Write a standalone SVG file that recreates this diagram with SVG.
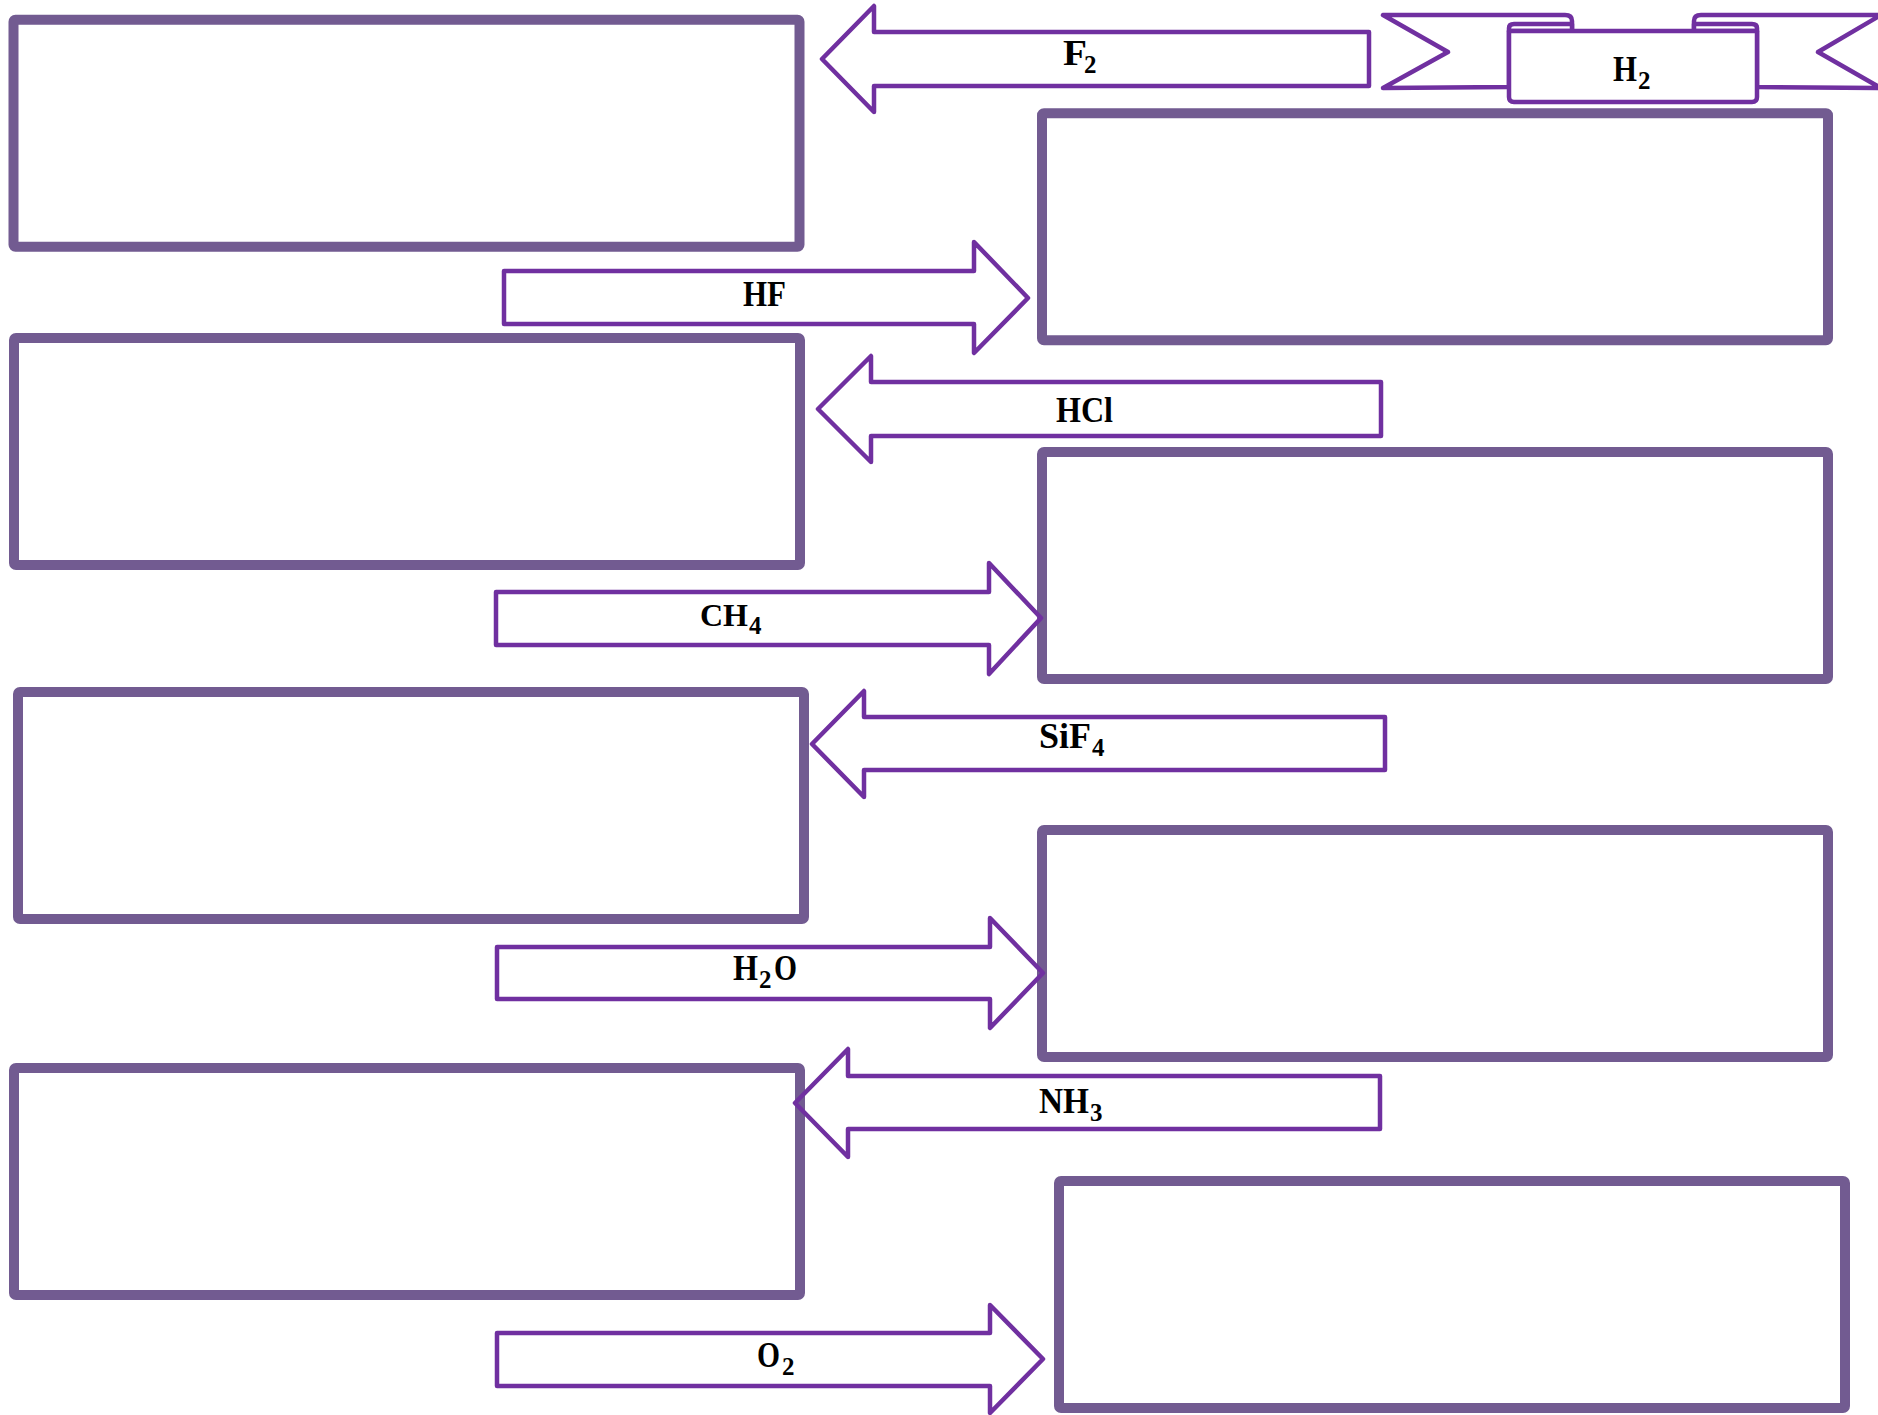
<svg xmlns="http://www.w3.org/2000/svg" width="1878" height="1415" viewBox="0 0 1878 1415">
<style>
.box{fill:#fff;stroke:#725B91;stroke-width:10;stroke-linejoin:round}
.arrow{fill:none;stroke:#7030A0;stroke-width:4.5;stroke-linejoin:round}
.rib{fill:#fff;stroke:#7030A0;stroke-width:4.5;stroke-linejoin:round;stroke-linecap:round}
.lbl{font-family:"Liberation Serif","DejaVu Serif",serif;font-weight:bold;font-size:36px;fill:#000}
.sub{font-size:25px}
</style>
<rect width="1878" height="1415" fill="#fff"/>
<g id="box-l1"><rect class="box" x="13.5" y="19.7" width="786" height="227" rx="2"/></g>
<g id="box-r1"><rect class="box" x="1042" y="113.3" width="786" height="227" rx="2"/></g>
<g id="box-l2"><rect class="box" x="14" y="338" width="786" height="227" rx="2"/></g>
<g id="box-r2"><rect class="box" x="1042" y="452" width="786" height="227" rx="2"/></g>
<g id="box-l3"><rect class="box" x="18" y="692" width="786" height="227" rx="2"/></g>
<g id="box-r3"><rect class="box" x="1042" y="830" width="786" height="227" rx="2"/></g>
<g id="box-l4"><rect class="box" x="14" y="1068" width="786" height="227" rx="2"/></g>
<g id="box-r4"><rect class="box" x="1059" y="1181" width="786" height="227" rx="2"/></g>
<g id="banner-h2">
<path class="rib" d="M1383,15 L1565,15 Q1572,15 1572,21 L1572,31 L1509,31 L1509,87 L1383,88 L1448,52 Z"/>
<path class="rib" d="M1881,15 L1701,15 Q1694,15 1694,21 L1694,31 L1757,31 L1757,87 L1881,88 L1818,52 Z"/>
<path class="rib" d="M1509,31 L1509,28 Q1509,24 1514,24 L1572,24 L1572,31 Z"/>
<path class="rib" d="M1757,31 L1757,28 Q1757,24 1752,24 L1694,24 L1694,31 Z"/>
<path class="rib" d="M1509,31 L1757,31 L1757,97 Q1757,102 1752,102 L1514,102 Q1509,102 1509,97 Z"/>
<text class="lbl" y="81"><tspan x="1613" textLength="24" lengthAdjust="spacingAndGlyphs">H</tspan><tspan class="sub" x="1638" y="89">2</tspan></text>
</g>
<g id="connectors">
<g id="arrow-f2"><path class="arrow" d="M822,59 L874,6 L874,32 L1369,32 L1369,86 L874,86 L874,112 Z"/>
<text class="lbl" y="65"><tspan x="1063" textLength="24" lengthAdjust="spacingAndGlyphs">F</tspan><tspan class="sub" x="1084" y="73">2</tspan></text></g>
<g id="arrow-hf"><path class="arrow" d="M504,271 L974,271 L974,242 L1028,298 L974,353 L974,324 L504,324 Z"/>
<text class="lbl" x="743" y="306" textLength="43" lengthAdjust="spacingAndGlyphs">HF</text></g>
<g id="arrow-hcl"><path class="arrow" d="M818,409 L871,356 L871,382 L1381,382 L1381,436 L871,436 L871,462 Z"/>
<text class="lbl" x="1056" y="422" textLength="57" lengthAdjust="spacingAndGlyphs">HCl</text></g>
<g id="arrow-ch4"><path class="arrow" d="M496,592 L989,592 L989,563 L1041,618 L989,674 L989,645 L496,645 Z"/>
<text class="lbl" y="626"><tspan x="700" font-size="32">CH</tspan><tspan class="sub" x="749" y="634">4</tspan></text></g>
<g id="arrow-sif4"><path class="arrow" d="M812,744 L864,691 L864,717 L1385,717 L1385,770 L864,770 L864,797 Z"/>
<text class="lbl" y="748"><tspan x="1039" textLength="52" lengthAdjust="spacingAndGlyphs">SiF</tspan><tspan class="sub" x="1092" y="756">4</tspan></text></g>
<g id="arrow-h2o"><path class="arrow" d="M497,947 L990,947 L990,918 L1043,973 L990,1028 L990,999 L497,999 Z"/>
<text class="lbl" y="980"><tspan x="733" textLength="25" lengthAdjust="spacingAndGlyphs">H</tspan><tspan class="sub" x="759" y="988">2</tspan><tspan x="774" y="980" textLength="23" lengthAdjust="spacingAndGlyphs">O</tspan></text></g>
<g id="arrow-nh3"><path class="arrow" d="M795,1103 L848,1049 L848,1076 L1380,1076 L1380,1129 L848,1129 L848,1157 Z"/>
<text class="lbl" y="1113"><tspan x="1039" textLength="50" lengthAdjust="spacingAndGlyphs">NH</tspan><tspan class="sub" x="1090" y="1121">3</tspan></text></g>
<g id="arrow-o2"><path class="arrow" d="M497,1333 L990,1333 L990,1305 L1043,1359 L990,1413 L990,1386 L497,1386 Z"/>
<text class="lbl" y="1367"><tspan x="757" textLength="23" lengthAdjust="spacingAndGlyphs">O</tspan><tspan class="sub" x="782" y="1375">2</tspan></text></g>
</g>
</svg>
